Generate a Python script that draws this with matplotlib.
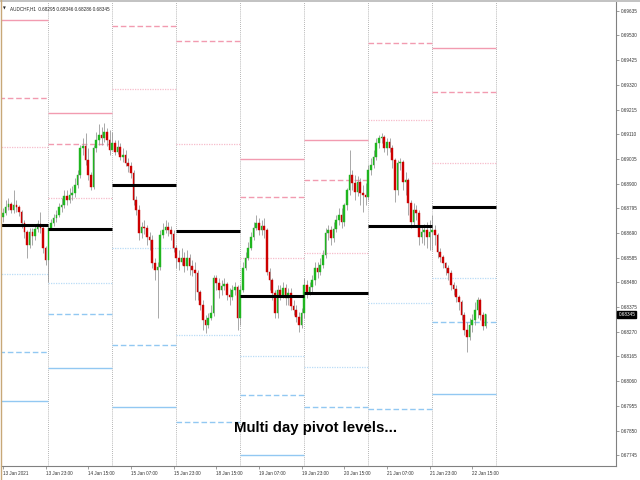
#! /usr/bin/python

"""
================================================================================
Title:    AUDCHF H1 chart with multi day pivot levels
Overview: candles plus daily classic pivots (R3..S3), MT4 look
================================================================================
"""

# LIBRARIES
import matplotlib
matplotlib.use("Agg")
import matplotlib.pyplot as plt
import matplotlib.transforms as mtransforms
from matplotlib.lines import Line2D
import numpy as np
import pandas as pd


# H1 bars, weekend skipped
times = pd.date_range("2021-01-13 07:00", "2021-01-22 20:00", freq="h")
times = times[times.dayofweek < 5]

# Prices in points (1e-5)
first_open = 68758

closes = [
    # 13 Jan
    68775, 68800, 68813, 68788, 68809, 68800, 68779, 68732, 68694, 68639,
    68694, 68677, 68707, 68728, 68711, 68626, 68575,
    # 14 Jan
    68711, 68732, 68754, 68766, 68800, 68809, 68847, 68830, 68851, 68860,
    68894, 68936, 69051, 69060, 69000, 68936, 68885, 69051, 69085, 69106,
    69094, 69119, 69085, 69043,
    # 15 Jan
    69072, 69034, 69055, 69013, 69021, 68987, 68975, 68945, 68830, 68788,
    68690, 68715, 68711, 68673, 68660, 68562, 68533, 68545, 68681, 68703,
    68715, 68703, 68686, 68626,
    # 18 Jan
    68584, 68567, 68584, 68550, 68584, 68550, 68533, 68520, 68439, 68384,
    68320, 68299, 68329, 68350, 68499, 68477, 68448, 68465, 68473, 68426,
    68418, 68448, 68460, 68329,
    # 19 Jan
    68448, 68541, 68584, 68626, 68673, 68711, 68732, 68703, 68720, 68703,
    68524, 68490, 68435, 68350, 68448, 68426, 68456, 68414, 68435, 68380,
    68363, 68333, 68299, 68350,
    # 20 Jan
    68469, 68439, 68460, 68490, 68541, 68524, 68554, 68596, 68690, 68703,
    68669, 68707, 68745, 68766, 68737, 68809, 68873, 68936, 68902, 68864,
    68907, 68860, 68851, 68843,
    # 21 Jan
    68958, 68979, 69013, 69072, 69094, 69098, 69051, 69077, 69051, 69000,
    68873, 68987, 68992, 68907, 68915, 68817, 68737, 68788, 68775, 68673,
    68694, 68703, 68673, 68694,
    # 22 Jan
    68703, 68681, 68609, 68588, 68562, 68541, 68520, 68469, 68452, 68418,
    68397, 68341, 68278, 68248, 68299, 68320, 68363, 68405, 68341, 68295,
    68345,
]

highs = [
    68796, 68830, 68839, 68822, 68873, 68830, 68809, 68788, 68745, 68703,
    68711, 68711, 68724, 68745, 68779, 68720, 68635,
    68724, 68749, 68771, 68788, 68817, 68839, 68873, 68873, 68881, 68890,
    68924, 68958, 69064, 69094, 69115, 69051, 68949, 69064, 69119, 69153,
    69140, 69157, 69136, 69127,
    69119, 69085, 69085, 69072, 69051, 69043, 69009, 68992, 68958, 68847,
    68809, 68737, 68745, 68724, 68694, 68681, 68584, 68567, 68703, 68732,
    68745, 68737, 68720, 68703,
    68639, 68618, 68626, 68609, 68618, 68601, 68575, 68567, 68533, 68448,
    68405, 68341, 68350, 68384, 68511, 68511, 68499, 68490, 68499, 68482,
    68456, 68469, 68482, 68469,
    68469, 68567, 68609, 68652, 68694, 68737, 68766, 68754, 68745, 68754,
    68711, 68541, 68499, 68448, 68469, 68469, 68482, 68473, 68456, 68456,
    68405, 68384, 68354, 68371,
    68499, 68490, 68482, 68511, 68567, 68567, 68584, 68618, 68711, 68724,
    68720, 68737, 68766, 68796, 68796, 68817, 68881, 69043, 68958, 68936,
    68932, 68924, 68894, 68902,
    68979, 69009, 69043, 69094, 69106, 69115, 69106, 69094, 69094, 69064,
    69009, 69000, 69009, 69000, 68949, 68924, 68830, 68817, 68809, 68788,
    68724, 68728, 68737, 68745,
    68766, 68724, 68690, 68626, 68596, 68567, 68554, 68533, 68482, 68469,
    68426, 68405, 68354, 68312, 68329, 68346, 68397, 68418, 68414, 68354,
    68346,
]

lows = [
    68737, 68766, 68788, 68775, 68775, 68779, 68762, 68711, 68669, 68584,
    68626, 68639, 68660, 68694, 68690, 68605, 68554,
    68482, 68703, 68720, 68737, 68758, 68779, 68796, 68809, 68817, 68830,
    68843, 68881, 68924, 69021, 68979, 68915, 68873, 68877, 69034, 69064,
    69064, 69077, 69060, 69021,
    69043, 69021, 69026, 69000, 68992, 68975, 68949, 68924, 68809, 68766,
    68660, 68669, 68686, 68639, 68618, 68541, 68490, 68329, 68533, 68669,
    68690, 68677, 68660, 68609,
    68541, 68533, 68554, 68524, 68533, 68511, 68507, 68405, 68405, 68363,
    68278, 68265, 68286, 68320, 68337, 68448, 68414, 68426, 68448, 68405,
    68384, 68405, 68426, 68278,
    68299, 68439, 68533, 68575, 68618, 68660, 68703, 68681, 68681, 68669,
    68511, 68448, 68405, 68329, 68329, 68405, 68414, 68384, 68384, 68363,
    68341, 68312, 68269, 68286,
    68329, 68414, 68426, 68439, 68469, 68499, 68511, 68541, 68584, 68660,
    68639, 68652, 68694, 68724, 68711, 68720, 68788, 68851, 68873, 68830,
    68847, 68809, 68779, 68809,
    68830, 68936, 68966, 69000, 69051, 69072, 69034, 69021, 69034, 68966,
    68822, 68851, 68958, 68873, 68851, 68766, 68711, 68724, 68745, 68639,
    68647, 68639, 68626, 68618,
    68618, 68639, 68584, 68567, 68541, 68511, 68490, 68448, 68426, 68397,
    68363, 68320, 68256, 68184, 68235, 68269, 68299, 68329, 68320, 68278,
    68286,
]

# Daily classic pivots (nan = outside the visible price range)
nan = np.nan
pivot_days = ["2021-01-13", "2021-01-14", "2021-01-15", "2021-01-18",
              "2021-01-19", "2021-01-20", "2021-01-21", "2021-01-22"]
r3 = [0.69595, 0.69201, nan, nan, 0.69005, 0.69085, nan, 0.69476]
r2 = [0.69264, 0.69068, 0.69570, 0.69506, 0.68843, 0.68915, 0.69498, 0.69289]
r1 = [0.69056, 0.68840, 0.69302, 0.69068, 0.68584, 0.68605, 0.69170, 0.68988]
pp = [0.68724, 0.68708, 0.68894, 0.68699, 0.68422, 0.68435, 0.68720, 0.68801]
s1 = [0.68516, 0.68477, 0.68626, 0.68256, 0.68167, 0.68120, 0.68392, 0.68499]
s2 = [0.68184, 0.68346, 0.68214, 0.67887, 0.68001, 0.67950, 0.67942, 0.68312]
s3 = [0.67976, 0.68115, 0.67950, nan, 0.67746, nan, nan, 0.68006]

price_ticks = [0.69635, 0.69530, 0.69425, 0.69320, 0.69215, 0.69110, 0.69005,
               0.68900, 0.68795, 0.68690, 0.68585, 0.68480, 0.68375, 0.68270,
               0.68165, 0.68060, 0.67955, 0.67850, 0.67745]

symbol = "AUDCHF,H1"
last_ohlc = ["0.68295", "0.68346", "0.68286", "0.68345"]


SMALL = ["Liberation Sans", "DejaVu Sans"]
FS = 3.3


def plotCandles(ax, o, h, l, c):

    """
    ============================================================================
    PLOTCANDLES
    ============================================================================
    """

    x = np.arange(len(c))
    up = c >= o

    ax.vlines(x, l, h, color = "#9a9a9a", lw = 0.6, zorder = 3)

    bottom = np.minimum(o, c)
    height = np.abs(c - o)
    colors = np.where(up, "#1fb51f", "#cc0000")
    ax.bar(x, height, bottom = bottom, width = 0.62, color = colors,
           edgecolor = colors, linewidth = 0.3, zorder = 4)


def plotPivots(ax, starts):

    """
    ============================================================================
    PLOTPIVOTS
    ============================================================================
    """

    pink = "#f29bb0"
    pink_lt = "#f7bccb"
    blue = "#92c8f2"
    blue_lt = "#b9dcf7"

    styles = [
        (r3, pink, "-", 1.0),
        (r2, pink, (0, (4, 2)), 1.0),
        (r1, pink_lt, (0, (1, 1)), 0.9),
        (pp, "black", "-", 2.2),
        (s1, blue_lt, (0, (1, 1)), 0.9),
        (s2, blue, (0, (4, 2)), 1.0),
        (s3, blue, "-", 1.0),
    ]

    for levels, col, ls, lw in styles:
        for s, v in zip(starts, levels):
            if np.isnan(v):
                continue
            ax.plot([s, s + 24], [v, v], color = col, ls = ls, lw = lw,
                    solid_capstyle = "butt", zorder = 2 if lw < 2 else 5)


def main():

    """
    ============================================================================
    MAIN
    ============================================================================
    """

    c = np.array(closes) / 1e5
    h = np.array(highs) / 1e5
    l = np.array(lows) / 1e5
    o = np.concatenate([[first_open / 1e5], c[:-1]])

    fig = plt.figure(figsize = (6.4, 4.8), dpi = 100)
    fig.patch.set_facecolor("white")
    ax = fig.add_axes([1 / 640, 14 / 480, 615 / 640, 464 / 480])

    # Day start positions (bar index of 00:00)
    dates = times.normalize()
    starts = []
    for d in pd.to_datetime(pivot_days):
        i = np.where(dates == d)[0][0]
        starts.append(i - times[i].hour)

    # Day separators
    for s in starts[1:] + [starts[-1] + 24]:
        ax.axvline(s, color = "#9c9c9c", lw = 0.6, ls = (0, (1, 1.5)),
                   zorder = 1)

    plotPivots(ax, starts)
    plotCandles(ax, o, h, l, c)

    ax.set_xlim(-0.75, 229.9)
    ax.set_ylim(0.676995, 0.69672)

    # Price axis
    ax.yaxis.tick_right()
    ax.set_yticks(price_ticks)
    ax.set_yticklabels(["%.5f" % p for p in price_ticks], family = SMALL,
                       fontsize = FS, color = "#333333")
    ax.tick_params(axis = "y", length = 2, width = 0.5, pad = 1.2,
                   colors = "#777777", labelcolor = "#333333")

    # Time axis
    xt = np.arange(0, len(times), 16)
    labels = []
    for i in xt:
        if i == 0:
            labels.append(times[i].strftime("%d %b %Y"))
        else:
            labels.append(times[i].strftime("%d %b %H:%M"))
    ax.set_xticks(xt)
    ax.set_xticklabels(labels, family = SMALL, fontsize = FS, ha = "left")
    ax.tick_params(axis = "x", length = 2, width = 0.5, pad = 1.5,
                   colors = "#777777", labelcolor = "#333333")

    for side in ["top", "left"]:
        ax.spines[side].set_visible(False)
    for side in ["right", "bottom"]:
        ax.spines[side].set_color("#808080")
        ax.spines[side].set_linewidth(0.8)

    # Current price box
    trans = mtransforms.blended_transform_factory(ax.transAxes, ax.transData)
    ax.text(1.004, c[-1], "%.5f" % c[-1], transform = trans, ha = "left",
            va = "center", family = SMALL, fontsize = FS, color = "white",
            bbox = dict(boxstyle = "square,pad=0.25", fc = "black",
                        ec = "black"), zorder = 10, clip_on = False)

    # Header
    ax.text(0.004, 0.99, "\u25bc", transform = ax.transAxes, ha = "left",
            va = "top", family = ["DejaVu Sans"], fontsize = 2.6,
            color = "#222222")
    ax.text(0.014, 0.99, symbol + "  " + " ".join(last_ohlc),
            transform = ax.transAxes, ha = "left", va = "top",
            family = SMALL, fontsize = FS, color = "#222222")

    # Caption
    ax.text(0.511, 0.073, "Multi day pivot levels...",
            transform = ax.transAxes, ha = "center", va = "baseline",
            family = ["Liberation Sans", "DejaVu Sans"],
            fontsize = 10.8, weight = "bold", color = "black", zorder = 8)

    # Window borders
    fig.add_artist(Line2D([0, 1], [0.998, 0.998], color = "#b8b8b8", lw = 1.2))
    fig.add_artist(Line2D([0.0008, 0.0008], [0, 1], color = "#c8a878",
                          lw = 1.0))

    fig.savefig("out.png", dpi = 100)


# Run this when script is called from terminal
if __name__ == "__main__":
    main()
